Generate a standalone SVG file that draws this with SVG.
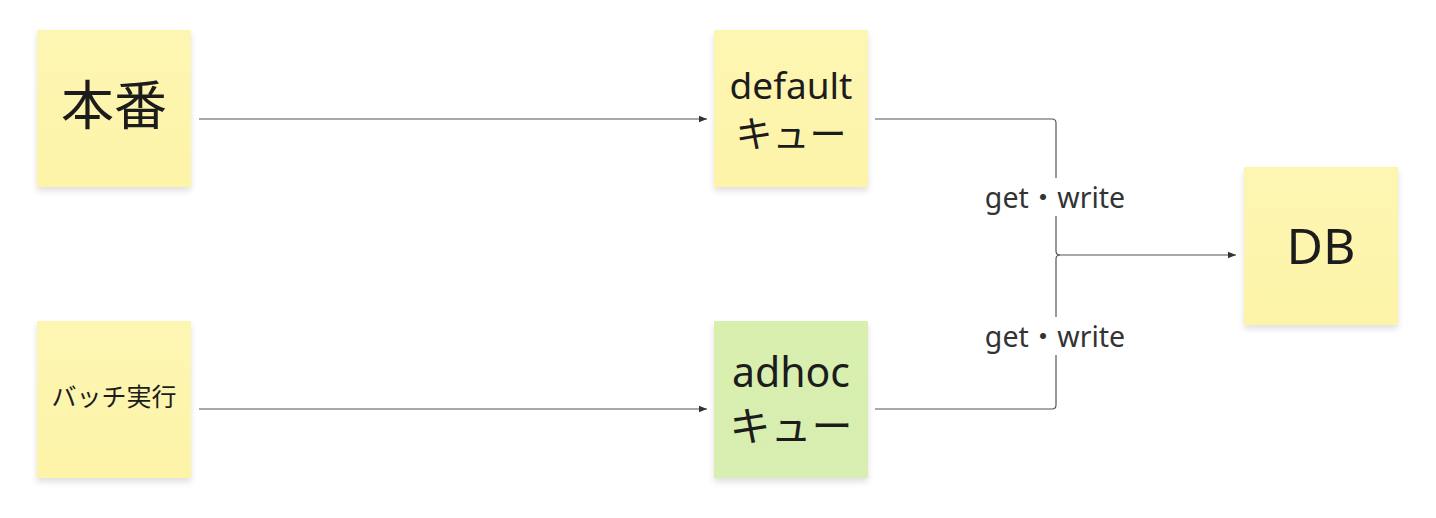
<svg xmlns="http://www.w3.org/2000/svg" width="1436" height="518" viewBox="0 0 1436 518">
<defs>
<linearGradient id="gy" x1="0" y1="0" x2="0" y2="1"><stop offset="0" stop-color="#fdf6b3"/><stop offset="1" stop-color="#fdf4a8"/></linearGradient>
<linearGradient id="gg" x1="0" y1="0" x2="0" y2="1"><stop offset="0" stop-color="#d9efae"/><stop offset="1" stop-color="#d8eeb2"/></linearGradient>
<filter id="sh" x="-10%" y="-10%" width="120%" height="125%"><feDropShadow dx="0" dy="4" stdDeviation="3" flood-color="#000" flood-opacity="0.12"/></filter>
<marker id="ah" viewBox="0 0 10 10" refX="10" refY="5" markerWidth="8" markerHeight="8" markerUnits="userSpaceOnUse" orient="auto"><path d="M0,1 L10,5 L0,9 Z" fill="#333"/></marker>
<style>
.y{fill:url(#gy);filter:url(#sh)}
.g{fill:url(#gg);filter:url(#sh)}
text{font-family:"Noto Sans","Noto Sans CJK JP",sans-serif;fill:#1c1c1c;text-anchor:middle;dominant-baseline:central}
.c{fill:none;stroke:#555;stroke-width:1.2}
.lbl{font-size:28.5px;fill:#333}
</style>
</defs>
<g id="connectors">
<line class="c" x1="199" y1="119" x2="707" y2="119" marker-end="url(#ah)"/>
<line class="c" x1="199" y1="409" x2="707" y2="409" marker-end="url(#ah)"/>
<path class="c" d="M875,119 H1052 Q1056,119 1056,123 V251 Q1056,255 1060,255 H1236" marker-end="url(#ah)"/>
<path class="c" d="M875,409 H1052 Q1056,409 1056,405 V259 Q1056,255 1060,255"/>
<rect x="976" y="178" width="160" height="38" fill="#fff"/>
<rect x="976" y="317" width="160" height="38" fill="#fff"/>
<text class="lbl" x="1055" y="197">get・write</text>
<text class="lbl" x="1055" y="336">get・write</text>
</g>
<g id="honban"><rect class="y" x="37" y="30" width="154" height="157"/><text x="114" y="104" font-size="53">本番</text></g>
<g id="batch"><rect class="y" x="37" y="321" width="154" height="157"/><text x="114" y="396" font-size="25">バッチ実行</text></g>
<g id="default"><rect class="y" x="714" y="30" width="154" height="157"/><text x="791" y="84" font-size="37">default</text><text x="791" y="133" font-size="37">キュー</text></g>
<g id="adhoc"><rect class="g" x="714" y="321" width="154" height="157"/><text x="791" y="371" font-size="41">adhoc</text><text x="791" y="425" font-size="41">キュー</text></g>
<g id="db"><rect class="y" x="1244" y="167" width="154" height="158"/><text x="1321" y="245" font-size="50">DB</text></g>
</svg>
